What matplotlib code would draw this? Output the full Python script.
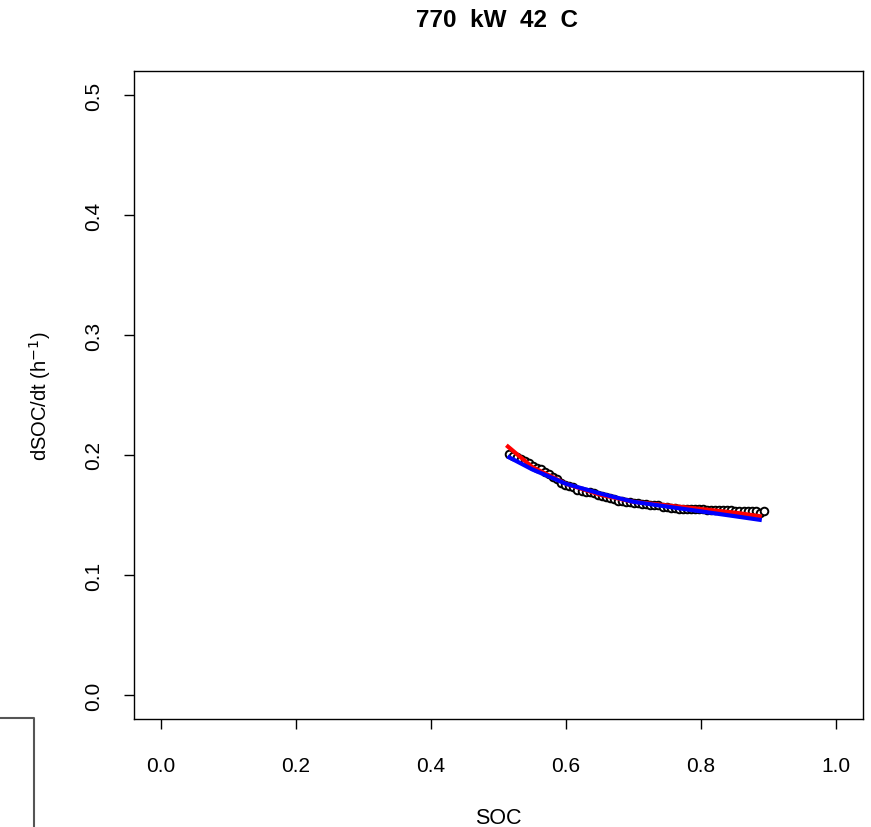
import matplotlib
matplotlib.use("Agg")
import matplotlib.pyplot as plt
from matplotlib.lines import Line2D

plt.rcParams["font.family"] = ["Liberation Sans", "DejaVu Sans"]

# observed points
soc = [0.515, 0.521, 0.527, 0.533, 0.539, 0.545, 0.551, 0.557, 0.563, 0.569,
       0.575, 0.581, 0.587, 0.593, 0.599, 0.605, 0.611, 0.617, 0.623, 0.629,
       0.635, 0.641, 0.647, 0.653, 0.659, 0.665, 0.671, 0.677, 0.683, 0.689,
       0.695, 0.701, 0.707, 0.713, 0.719, 0.725, 0.731, 0.737, 0.743, 0.749,
       0.755, 0.761, 0.767, 0.773, 0.779, 0.785, 0.791, 0.797, 0.803, 0.809,
       0.815, 0.821, 0.827, 0.833, 0.839, 0.845, 0.851, 0.857, 0.863, 0.869,
       0.875, 0.881, 0.887, 0.893]
dsoc = [0.201, 0.199, 0.198, 0.197, 0.195, 0.193, 0.191, 0.189, 0.188, 0.186,
        0.184, 0.182, 0.180, 0.177, 0.175, 0.174, 0.173, 0.171, 0.170, 0.169,
        0.169, 0.168, 0.167, 0.166, 0.165, 0.164, 0.163, 0.162, 0.162, 0.161,
        0.161, 0.160, 0.160, 0.159, 0.159, 0.158, 0.158, 0.158, 0.157, 0.157,
        0.156, 0.156, 0.155, 0.155, 0.155, 0.155, 0.155, 0.155, 0.155, 0.154,
        0.154, 0.154, 0.154, 0.154, 0.154, 0.154, 0.153, 0.153, 0.153, 0.153,
        0.153, 0.153, 0.152, 0.153]

# fitted curves
red_x = [0.514, 0.55, 0.60, 0.65, 0.70, 0.75, 0.80, 0.85, 0.887]
red_y = [0.207, 0.190, 0.176, 0.167, 0.161, 0.158, 0.155, 0.152, 0.149]
blue_x = [0.516, 0.55, 0.60, 0.65, 0.70, 0.75, 0.80, 0.85, 0.887]
blue_y = [0.198, 0.188, 0.176, 0.168, 0.161, 0.157, 0.153, 0.149, 0.146]

fig = plt.figure(figsize=(8.71, 8.28), dpi=100)
ax = fig.add_axes([134 / 871, 108 / 828, 729 / 871, 648 / 828])

ax.scatter(soc, dsoc, s=30, facecolors="white", edgecolors="black", linewidths=1.4, zorder=2)
ax.plot(red_x, red_y, color="red", lw=3, zorder=3)
ax.plot(blue_x, blue_y, color="blue", lw=3, zorder=4)

ax.set_xlim(-0.04, 1.04)
ax.set_ylim(-0.02, 0.52)
ax.set_xticks([0.0, 0.2, 0.4, 0.6, 0.8, 1.0])
ax.set_yticks([0.0, 0.1, 0.2, 0.3, 0.4, 0.5])
ax.set_xticklabels(["0.0", "0.2", "0.4", "0.6", "0.8", "1.0"])
ax.set_yticklabels(["0.0", "0.1", "0.2", "0.3", "0.4", "0.5"], rotation=90, va="center")
ax.tick_params(direction="out", length=7, width=1, labelsize=15)
ax.tick_params(axis="x", pad=20)
ax.tick_params(axis="y", pad=15)
for s in ax.spines.values():
    s.set_linewidth(1)

ax.set_xlabel("SOC", fontsize=15.5, labelpad=23)
ax.set_ylabel("dSOC/dt (h$^{-1}$)", fontsize=14.5, labelpad=23)
fig.text(0.571, 0.975, "770  kW  42  C", ha="center", va="center",
         fontsize=17.5, fontweight="bold")

# partial box in the lower left corner
fig.add_artist(Line2D([0, 34 / 871, 34 / 871], [109 / 828, 109 / 828, 0],
                      transform=fig.transFigure, color="#555555", lw=1.5))

fig.savefig("out.png", dpi=100)
